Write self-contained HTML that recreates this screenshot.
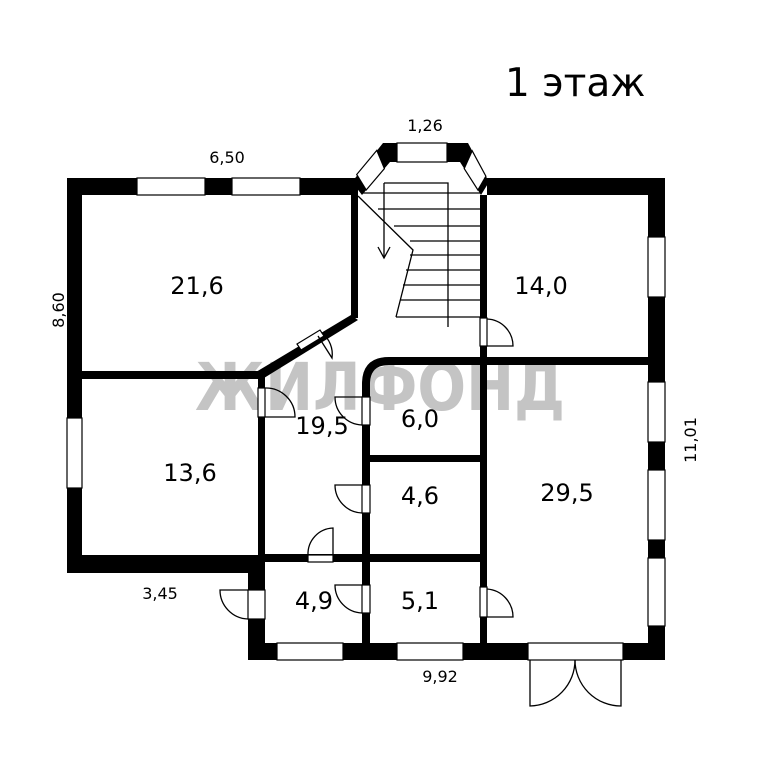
<!DOCTYPE html>
<html><head><meta charset="utf-8"><style>
html,body{margin:0;padding:0;background:#fff}
svg{display:block}
text{font-family:"DejaVu Sans","Liberation Sans",sans-serif}
</style></head><body>
<svg width="759" height="768" viewBox="0 0 759 768" xmlns="http://www.w3.org/2000/svg">
<rect width="759" height="768" fill="#fff"/>
<text x="380" y="410" text-anchor="middle" font-size="66" font-weight="bold" fill="#c4c4c4" textLength="370" lengthAdjust="spacingAndGlyphs">ЖИЛФОНД</text>

<g fill="#000">
<rect x="67" y="178" width="291" height="17"/>
<rect x="487" y="178" width="178" height="17"/>
<rect x="67" y="178" width="15" height="395"/>
<rect x="648" y="178" width="17" height="482"/>
<rect x="67" y="555" width="198" height="18"/>
<rect x="248" y="555" width="17" height="105"/>
<rect x="248" y="643" width="417" height="17"/>
<polygon points="383,143 468,143 489,182 481,195 460,162 390,162 362,195 352,182"/>
<rect x="351" y="195" width="7" height="123"/>
<polygon points="351,315 358,320 264,378 256,372"/>
<rect x="82" y="371" width="180" height="8"/>
<rect x="258" y="372" width="7" height="188"/>
<rect x="480" y="195" width="7" height="452"/>
<path d="M362 643 V384 Q362 357 389 357 H648 V365 H389 Q370 365 370 384 V643 Z"/>
<rect x="370" y="455" width="112" height="7"/>
<rect x="265" y="554" width="217" height="8"/>
</g>

<g fill="#fff" stroke="#000" stroke-width="1.2">
<rect x="137" y="178" width="68" height="17"/>
<rect x="232" y="178" width="68" height="17"/>
<rect x="397" y="143" width="50" height="19"/>
<polygon points="376.8,150.4 356.7,174.5 366.2,190 384.4,168.6"/>
<polygon points="472.2,150.8 485.9,176.2 477.9,190 464.2,168.6"/>
<rect x="648" y="237" width="17" height="60"/>
<rect x="648" y="382" width="17" height="60"/>
<rect x="648" y="470" width="17" height="70"/>
<rect x="648" y="558" width="17" height="68"/>
<rect x="67" y="418" width="15" height="70"/>
<rect x="277" y="643" width="66" height="17"/>
<rect x="397" y="643" width="66" height="17"/>
<rect x="528" y="643" width="95" height="17"/>
<rect x="248" y="590" width="17" height="29"/>
<rect x="258" y="388" width="7" height="29"/>
<rect x="362" y="397" width="8" height="28"/>
<rect x="362" y="485" width="8" height="28"/>
<rect x="362" y="585" width="8" height="28"/>
<rect x="480" y="318" width="7" height="28"/>
<rect x="480" y="587" width="7" height="30"/>
<rect x="308" y="555" width="25" height="7"/>
<polygon points="297,344 320,330 324,336 301,350"/>
</g>

<g fill="none" stroke="#000" stroke-width="1.3">
<path d="M248 590 H220 A29 29 0 0 0 248 619"/>
<path d="M265 417 H295 A29 29 0 0 0 265 388"/>
<path d="M362 397 H335 A28 28 0 0 0 362 425"/>
<path d="M362 485 H335 A28 28 0 0 0 362 513"/>
<path d="M362 585 H335 A28 28 0 0 0 362 613"/>
<path d="M487 346 H513 A27 27 0 0 0 487 319"/>
<path d="M487 617 H513 A28 28 0 0 0 487 589"/>
<path d="M333 555 V528 A26 26 0 0 0 308 555"/>
<path d="M318 336 L332 358 A27 27 0 0 0 322 333"/>
<path d="M530 660 V706 A46 46 0 0 0 575 660"/>
<path d="M621 660 V706 A46 46 0 0 1 575 660"/>
<path d="M384 183 H448 V327"/>
<path d="M384 183 V257"/>
<path d="M378 247 L384 258 L390 247"/>
<path d="M358 196 L413 250 L396 317"/>
<line x1="362" y1="193" x2="481" y2="193"/>
<line x1="378" y1="209" x2="481" y2="209"/>
<line x1="394" y1="226" x2="481" y2="226"/>
<line x1="410" y1="241" x2="481" y2="241"/>
<line x1="410" y1="255" x2="481" y2="255"/>
<line x1="406" y1="270" x2="481" y2="270"/>
<line x1="403" y1="285" x2="481" y2="285"/>
<line x1="400" y1="300" x2="481" y2="300"/>
<line x1="396" y1="317" x2="481" y2="317"/>
</g>

<g fill="#000">
<text x="505" y="96" font-size="39">1 этаж</text>
<text x="425" y="131" font-size="16" text-anchor="middle">1,26</text>
<text x="227" y="163" font-size="16" text-anchor="middle">6,50</text>
<text x="160" y="599" font-size="16" text-anchor="middle">3,45</text>
<text x="440" y="682" font-size="16" text-anchor="middle">9,92</text>
<text transform="translate(64,310) rotate(-90)" font-size="16" text-anchor="middle">8,60</text>
<text transform="translate(696,440) rotate(-90)" font-size="16" text-anchor="middle">11,01</text>
<g font-size="24" text-anchor="middle">
<text x="197" y="294">21,6</text>
<text x="541" y="294">14,0</text>
<text x="322" y="434">19,5</text>
<text x="420" y="427">6,0</text>
<text x="190" y="481">13,6</text>
<text x="420" y="504">4,6</text>
<text x="567" y="501">29,5</text>
<text x="314" y="609">4,9</text>
<text x="420" y="609">5,1</text>
</g>
</g>
</svg>
</body></html>
